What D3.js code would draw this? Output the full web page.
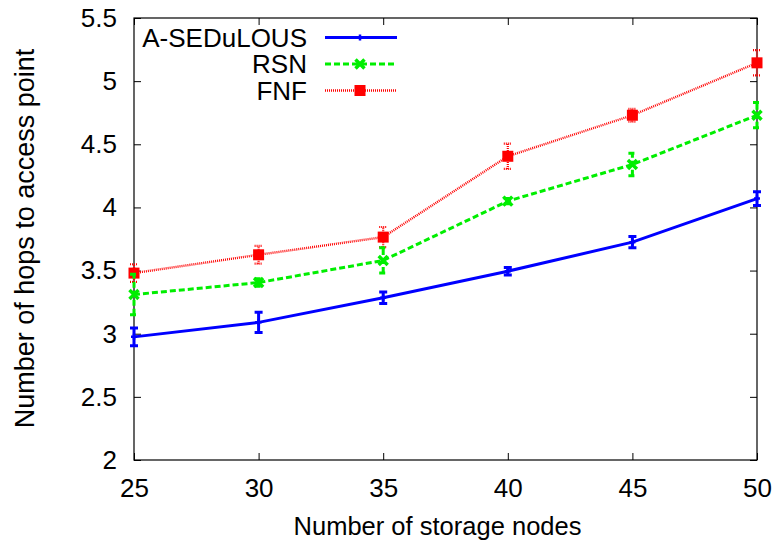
<!DOCTYPE html>
<html>
<head>
<meta charset="utf-8">
<script src="https://cdn.jsdelivr.net/npm/d3@7"></script>
<style>
  body { margin: 0; background: #fff; }
  svg { font-family: "Liberation Sans", Arial, sans-serif; }
</style>
</head>
<body>
<svg id="chart" width="776" height="544"></svg>
<script>
// Data
const nodes = [25, 30, 35, 40, 45, 50];
const sedulous = [2.975, 3.09, 3.285, 3.495, 3.725, 4.07];
const sedulousErr = [0.07, 0.08, 0.045, 0.03, 0.045, 0.055];
const rsn = [3.31, 3.405, 3.58, 4.05, 4.34, 4.73];
const rsnErr = [0.16, 0.03, 0.1, 0.02, 0.09, 0.1];
const fnf = [3.48, 3.625, 3.765, 4.405, 4.73, 5.145];
const fnfErr = [0.07, 0.07, 0.08, 0.1, 0.05, 0.1];
const xTicks = [25, 30, 35, 40, 45, 50];
const yTicks = [2, 2.5, 3, 3.5, 4, 4.5, 5, 5.5];

const series = [
  { name: 'A-SEDuLOUS', values: sedulous, err: sedulousErr, color: '#0000ff', width: 3, dash: null, marker: 'plus' },
  { name: 'RSN', values: rsn, err: rsnErr, color: '#00ee00', width: 3, dash: '6,3', marker: 'cross' },
  { name: 'FNF', values: fnf, err: fnfErr, color: '#ff0000', width: 2.4, dash: '1,1', marker: 'square' }
];

const svg = d3.select('#chart');
const margin = { left: 134, right: 19, top: 18, bottom: 84 };
const W = 776, H = 544;
const fontSize = 26;

const x = d3.scaleLinear().domain([25, 50]).range([margin.left, W - margin.right]);
const y = d3.scaleLinear().domain([2, 5.5]).range([H - margin.bottom, margin.top]);

const tickLen = 7;

// Axes (ticks inward, mirrored)
svg.append('g')
  .attr('transform', `translate(0,${y(2)})`)
  .call(d3.axisBottom(x).tickValues(xTicks).tickSizeInner(-tickLen).tickSizeOuter(0).tickPadding(tickLen + 12).tickFormat(d3.format('d')))
  .call(g => g.select('.domain').remove());
svg.append('g')
  .attr('transform', `translate(0,${y(5.5)})`)
  .call(d3.axisTop(x).tickValues(xTicks).tickSizeInner(-tickLen).tickSizeOuter(0).tickFormat(''))
  .call(g => g.select('.domain').remove());
svg.append('g')
  .attr('transform', `translate(${x(25)},0)`)
  .call(d3.axisLeft(y).tickValues(yTicks).tickSizeInner(-tickLen).tickSizeOuter(0).tickPadding(tickLen + 10).tickFormat(d => d))
  .call(g => g.select('.domain').remove());
svg.append('g')
  .attr('transform', `translate(${x(50)},0)`)
  .call(d3.axisRight(y).tickValues(yTicks).tickSizeInner(-tickLen).tickSizeOuter(0).tickFormat(''))
  .call(g => g.select('.domain').remove());

svg.selectAll('.tick line').attr('stroke', '#000').attr('stroke-width', 1);
svg.selectAll('.tick text').attr('font-size', fontSize).attr('fill', '#000')
  .attr('font-family', '"Liberation Sans", Arial, sans-serif');

// Frame
svg.append('rect')
  .attr('x', x(25)).attr('y', y(5.5))
  .attr('width', x(50) - x(25)).attr('height', y(2) - y(5.5))
  .attr('fill', 'none').attr('stroke', '#000').attr('stroke-width', 1.2);

// Axis titles
svg.append('text')
  .attr('x', (x(25) + x(50)) / 2 - 8).attr('y', 535)
  .attr('text-anchor', 'middle').attr('font-size', 26)
  .attr('textLength', 288).attr('lengthAdjust', 'spacingAndGlyphs')
  .text('Number of storage nodes');
svg.append('text')
  .attr('transform', `translate(34,238.5) rotate(-90)`)
  .attr('text-anchor', 'middle').attr('font-size', 27)
  .text('Number of hops to access point');

function drawMarker(g, s, cx, cy) {
  if (s.marker === 'plus') {
    g.append('path').attr('d', `M${cx - 3},${cy}H${cx + 3}M${cx},${cy - 3}V${cy + 3}`)
      .attr('stroke', s.color).attr('stroke-width', 2.5);
  } else if (s.marker === 'cross') {
    g.append('path').attr('d', `M${cx - 4.5},${cy - 4.5}L${cx + 4.5},${cy + 4.5}M${cx - 4.5},${cy + 4.5}L${cx + 4.5},${cy - 4.5}`)
      .attr('stroke', s.color).attr('stroke-width', 3.5);
  } else {
    g.append('rect').attr('x', cx - 5.5).attr('y', cy - 5.5).attr('width', 11).attr('height', 11)
      .attr('fill', s.color);
  }
}

const line = d3.line().x(d => x(d[0])).y(d => y(d[1]));

// Draw series (back to front: FNF, RSN, A-SEDuLOUS on top)
series.slice().reverse().forEach(s => {
  const g = svg.append('g');
  const pts = nodes.map((n, i) => [n, s.values[i]]);
  g.append('path').datum(pts).attr('d', line)
    .attr('fill', 'none').attr('stroke', s.color).attr('stroke-width', s.width)
    .attr('stroke-dasharray', s.dash);
  // error bars
  nodes.forEach((n, i) => {
    const cx = x(n), y0 = y(s.values[i] - s.err[i]), y1 = y(s.values[i] + s.err[i]);
    g.append('path')
      .attr('d', `M${cx},${y0}V${y1}M${cx - 4},${y0}H${cx + 4}M${cx - 4},${y1}H${cx + 4}`)
      .attr('fill', 'none').attr('stroke', s.color)
      .attr('stroke-width', s.marker === 'square' ? 2.2 : 3)
      .attr('stroke-dasharray', s.dash);
  });
  pts.forEach(p => drawMarker(g, s, x(p[0]), y(p[1])));
});

// Legend
const legend = svg.append('g');
series.forEach((s, i) => {
  const ly = 37.5 + i * 26.5;
  legend.append('text').attr('x', 307).attr('y', ly).attr('dy', '0.36em')
    .attr('text-anchor', 'end').attr('font-size', fontSize).text(s.name);
  legend.append('line').attr('x1', 325).attr('x2', 397).attr('y1', ly).attr('y2', ly)
    .attr('stroke', s.color).attr('stroke-width', s.width).attr('stroke-dasharray', s.dash);
  drawMarker(legend, s, 360, ly);
});
</script>
</body>
</html>
